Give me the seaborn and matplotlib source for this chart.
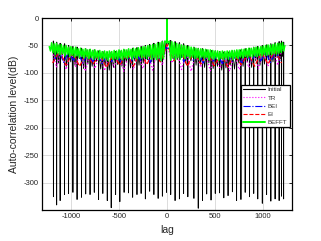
import numpy as np
import matplotlib
matplotlib.use("Agg")
import matplotlib.pyplot as plt
import seaborn as sns
from matplotlib.lines import Line2D

sns.set_theme(style="white")
plt.rcParams['font.family'] = ['Liberation Sans', 'DejaVu Sans']
plt.rcParams['axes.unicode_minus'] = False

# ---------------- data ----------------
labels = ["Initial", "TR", "BEI", "EI", "BEFFT"]

# Initial: null (spike) positions, null depths, level around each null, level between nulls
init_spike_lag = [-1182, -1148, -1112, -1066, -1024, -979, -936, -890, -846, -801, -757, -712, -668, -622,
                  -581, -535, -491, -447, -402, -358, -313, -270, -226, -181, -137, -93, -49, -6,
                  38, 83, 128, 172, 216, 279, 324, 368, 412, 457, 501, 546, 590, 634,
                  679, 723, 768, 812, 857, 901, 943, 990, 1035, 1079, 1123, 1165, 1190, 1212]
init_depth = [-326, -341, -333, -322, -320, -318, -331, -327, -321, -322, -318, -331, -320, -333,
              -346, -322, -335, -318, -319, -327, -322, -320, -330, -316, -322, -329, -325, -318,
              -322, -333, -330, -320, -326, -329, -347, -333, -321, -332, -320, -319, -328, -324,
              -317, -333, -331, -318, -326, -320, -330, -338, -322, -334, -330, -333, -325, -330]
init_top = [-42, -44, -46, -47, -50, -52, -53, -55, -56, -57, -58, -60, -61, -62,
            -62, -61, -60, -58, -57, -55, -54, -52, -50, -48, -46, -44, -42, -40,
            -41, -43, -45, -47, -50, -53, -55, -56, -58, -59, -60, -61, -62, -62,
            -60, -59, -58, -56, -55, -53, -52, -50, -49, -47, -45, -43, -42, -44]
init_low = [-75, -82, -70, -88, -80, -86, -74, -92, -84, -88, -79, -93, -86, -95,
            -90, -85, -88, -80, -91, -78, -86, -82, -76, -80, -72, -74, -66, -48,
            -64, -76, -72, -82, -78, -86, -84, -90, -82, -92, -88, -95, -91, -86,
            -93, -82, -88, -80, -90, -78, -86, -84, -76, -80, -72, -74, -70]

# BEFFT: lags -1225..1225 step 12.5 (samples next to the zero-lag peak at -2 / 2)
befft_lag = np.arange(-1225, 1225.1, 12.5)
befft_lag[97], befft_lag[99] = -2.0, 2.0
befft_db = [
    -52, -60, -45, -63, -47, -66, -46, -64, -49, -67, -48, -65, -51, -69, -50, -66, -53, -70, -52, -68,
    -54, -71, -53, -69, -56, -72, -55, -70, -57, -73, -56, -71, -58, -74, -57, -72, -59, -75, -58, -72,
    -60, -76, -59, -73, -61, -75, -60, -74, -61, -77, -60, -73, -61, -76, -59, -74, -60, -75, -58, -73,
    -59, -76, -57, -72, -58, -74, -56, -71, -57, -75, -55, -72, -56, -74, -54, -70, -54, -73, -52, -71,
    -52, -74, -50, -70, -50, -75, -48, -72, -48, -76, -46, -73, -45, -78, -43, -74, -42, -45,
    0,
    -45, -42, -77, -43, -73, -45, -76, -46, -72, -48, -75, -49, -71, -50, -74, -51, -70, -52, -73, -53,
    -71, -54, -74, -55, -72, -56, -75, -56, -71, -57, -74, -57, -72, -58, -76, -58, -73, -59, -75, -60,
    -73, -60, -77, -61, -74, -60, -76, -61, -73, -60, -75, -60, -72, -59, -76, -59, -73, -58, -74, -58,
    -71, -57, -73, -57, -70, -56, -72, -55, -70, -55, -71, -54, -69, -53, -70, -53, -68, -52, -69, -51,
    -67, -50, -68, -49, -66, -49, -67, -48, -65, -47, -66, -46, -64, -46, -63, -45, -60, -50]

# TR: lag -1200..1200 step 50
tr_lag = np.arange(-1200, 1201, 50)
tr_db = [-55, -90, -58, -94, -60, -88, -62, -97, -63, -92, -65, -96, -66, -90, -67, -97, -66, -94,
         -64, -92, -62, -95, -58, -86,
         -48,
         -82, -58, -94, -62, -97, -64, -90, -66, -96, -67, -92, -66, -97, -65, -94, -63, -90,
         -61, -92, -59, -88, -56, -86, -54]

# BEI: lag -1175..1175 step 50
bei_lag = np.arange(-1175, 1176, 50)
bei_db = [-78, -60, -81, -62, -77, -64, -82, -65, -80, -66, -83, -67, -79, -66, -82, -65, -80, -63,
          -78, -61, -81, -58, -76, -55,
          -55, -76, -58, -80, -61, -78, -63, -82, -65, -80, -66, -83, -67, -79, -66, -82, -65, -80,
          -64, -78, -62, -81, -60, -78]

# EI: lag -1190..1190 step 70
ei_lag = np.arange(-1190, 1191, 70)
ei_db = [-82, -60, -86, -63, -88, -65, -84, -67, -90, -67, -86, -64, -88, -61, -85, -57, -80,
         -48,
         -78, -57, -88, -61, -84, -64, -87, -67, -89, -67, -85, -65, -88, -63, -84, -60, -82]

# ---------------- build Initial polyline from the lists ----------------
init_lag, init_db = [], []
n = len(init_spike_lag)
for k in range(n):
    s = init_spike_lag[k]
    init_lag += [s - 2, s, s + 2]
    init_db += [init_top[k], init_depth[k], init_top[k]]
    if k < n - 1:
        init_lag.append((s + init_spike_lag[k + 1]) / 2)
        init_db.append(init_low[k])

# ---------------- figure ----------------
fig = plt.figure(figsize=(3.21, 2.41), dpi=100)
fig.patch.set_facecolor("white")
ax = fig.add_axes([0.131, 0.129, 0.779, 0.796])

styles = {
    "Initial": dict(color="black", lw=0.6, ls="-"),
    "TR": dict(color="#ff00ff", lw=0.9, ls=":"),
    "BEI": dict(color="#0000ff", lw=0.9, ls="-."),
    "EI": dict(color="#ff0000", lw=0.9, ls="--"),
    "BEFFT": dict(color="#00ff00", lw=1.1, ls="-"),
}

series = {
    "Initial": (init_lag, init_db),
    "TR": (tr_lag, tr_db),
    "BEI": (bei_lag, bei_db),
    "EI": (ei_lag, ei_db),
    "BEFFT": (befft_lag, befft_db),
}

for name in labels:
    x, y = series[name]
    st = styles[name]
    sns.lineplot(x=np.asarray(x, float), y=np.asarray(y, float), ax=ax, sort=False, estimator=None,
                 color=st["color"], linewidth=st["lw"], linestyle=st["ls"], legend=False)

ax.set_xlim(-1300, 1300)
ax.set_ylim(-350, 0)
ax.set_xticks([-1000, -500, 0, 500, 1000])
ax.set_yticks(list(range(-300, 1, 50)))
ax.grid(True, color="#dcdcdc", linewidth=0.7)
ax.set_axisbelow(True)
for sp in ax.spines.values():
    sp.set_color("black")
    sp.set_linewidth(0.9)
    sp.set_visible(True)
ax.tick_params(direction="in", length=2.5, width=0.6, labelsize=5.5, colors="black",
               labelcolor="#262626", top=True, right=True, pad=2.5)
ax.set_xlabel("lag", fontsize=7.5, color="#262626", labelpad=3)
ax.set_ylabel("Auto-correlation level(dB)", fontsize=7.5, color="#262626", labelpad=3)

handles = [Line2D([0], [0], color=styles[nm]["color"], lw=1.4 if nm == "BEFFT" else 0.8,
                  ls=styles[nm]["ls"]) for nm in labels]
leg = ax.legend(handles, labels, loc="upper right", bbox_to_anchor=(0.99, 0.652), fontsize=4.5,
                frameon=True, fancybox=False, edgecolor="black", framealpha=1, handlelength=3.6,
                borderpad=0.35, labelspacing=0.45, handletextpad=0.4, borderaxespad=0)
leg.get_frame().set_linewidth(0.9)
for t in leg.get_texts():
    t.set_color("#333333")

fig.savefig("out.png", dpi=100, facecolor="white")
